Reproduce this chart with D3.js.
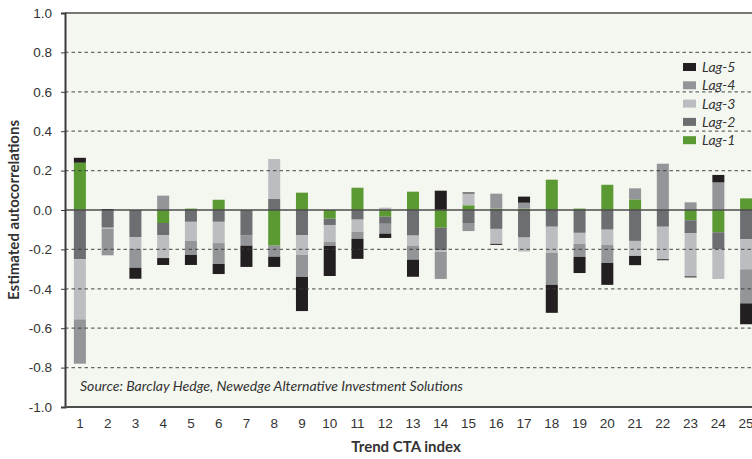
<!DOCTYPE html>
<html>
<head>
<meta charset="utf-8">
<script src="https://cdn.jsdelivr.net/npm/d3@7"></script>
<style>
  body { margin: 0; background: #fff; }
  svg { display: block; font-family: Lato, "Open Sans", sans-serif; }
</style>
</head>
<body>
<svg id="chart"></svg>
<script>
const width = 752;
const height = 459;

const categories = d3.range(1, 26).map(String);
const lagNames = ["Lag-1", "Lag-2", "Lag-3", "Lag-4", "Lag-5"];
const lagColors = ["#5b9a33", "#6d6e71", "#bcbdc0", "#939598", "#231f20"];

const lag1 = [0.24, 0, 0, -0.066, 0.007, 0.052, 0, -0.181, 0.088, -0.044, 0.113, -0.034, 0.093, -0.09, 0.024, 0.007, 0.007, 0.154, 0.007, 0.128, 0.054, 0, -0.052, -0.113, 0.059];
const lag2 = [-0.25, -0.09, -0.137, -0.061, -0.06, -0.06, -0.13, 0.056, -0.127, -0.032, -0.049, -0.036, -0.13, -0.113, -0.066, -0.096, -0.14, -0.085, -0.116, -0.1, -0.157, -0.085, -0.065, -0.087, -0.149];
const lag3 = [-0.305, -0.005, -0.06, -0.117, -0.097, -0.108, 0, 0.203, -0.101, -0.086, -0.061, 0.012, -0.051, -0.01, 0.06, -0.076, -0.071, -0.132, -0.056, -0.077, -0.076, -0.165, -0.22, -0.15, -0.152];
const lag4 = [-0.225, -0.135, -0.096, 0.073, -0.071, -0.106, -0.051, -0.056, -0.112, -0.02, -0.036, -0.05, -0.071, -0.137, -0.041, 0.076, 0.03, -0.163, -0.066, -0.092, 0.056, 0.235, 0.039, 0.14, -0.173];
const lag5 = [0.025, 0.005, -0.056, -0.035, -0.051, -0.051, -0.108, -0.052, -0.173, -0.153, -0.102, -0.022, -0.087, 0.098, 0.005, -0.005, 0.031, -0.142, -0.082, -0.111, -0.047, -0.005, -0.005, 0.038, -0.106];

const yTicks = [-1.0, -0.8, -0.6, -0.4, -0.2, 0, 0.2, 0.4, 0.6, 0.8, 1.0];
const gridTicks = [-0.8, -0.6, -0.4, -0.2, 0.2, 0.4, 0.6, 0.8];

const sourceText = "Source: Barclay Hedge, Newedge Alternative Investment Solutions";

// rows for the stack
const series = [lag1, lag2, lag3, lag4, lag5];
const rows = categories.map((c, i) => {
  const r = { cat: c };
  lagNames.forEach((k, j) => r[k] = series[j][i]);
  return r;
});

const plot = { left: 65, top: 13, right: 760, bottom: 407 };

const svg = d3.select("#chart")
  .attr("width", width)
  .attr("height", height);

const x = d3.scaleBand()
  .domain(categories)
  .range([plot.left + 1, plot.right])
  .paddingInner(0.567)
  .paddingOuter(0.2835);

const y = d3.scaleLinear()
  .domain([-1, 1])
  .range([plot.bottom, plot.top]);

// plot background
svg.append("rect")
  .attr("x", plot.left)
  .attr("y", plot.top)
  .attr("width", plot.right - plot.left)
  .attr("height", plot.bottom - plot.top)
  .attr("fill", "#f4f7f0");

const stacked = d3.stack()
  .keys(lagNames)
  .offset(d3.stackOffsetDiverging)(rows);

svg.append("g")
  .selectAll("g")
  .data(stacked)
  .join("g")
  .attr("fill", (d, i) => lagColors[i])
  .selectAll("rect")
  .data(d => d)
  .join("rect")
  .attr("x", d => x(d.data.cat))
  .attr("width", x.bandwidth())
  .attr("y", d => y(d[1]))
  .attr("height", d => Math.abs(y(d[0]) - y(d[1])));

// dashed grid on top of bars
svg.append("g")
  .selectAll("line")
  .data(gridTicks)
  .join("line")
  .attr("x1", plot.left)
  .attr("x2", plot.right)
  .attr("y1", d => y(d))
  .attr("y2", d => y(d))
  .attr("stroke", "#3a3a3a")
  .attr("stroke-opacity", 0.75)
  .attr("stroke-width", 1.2)
  .attr("stroke-dasharray", "3.5,3");

// zero line
svg.append("line")
  .attr("x1", plot.left)
  .attr("x2", plot.right)
  .attr("y1", y(0))
  .attr("y2", y(0))
  .attr("stroke", "#4d4d4d")
  .attr("stroke-width", 1.6);

// top frame
svg.append("line")
  .attr("x1", plot.left)
  .attr("x2", plot.right)
  .attr("y1", plot.top)
  .attr("y2", plot.top)
  .attr("stroke", "#4d4d4d")
  .attr("stroke-width", 1.5);

// y axis
const yAxis = svg.append("g")
  .attr("transform", `translate(${plot.left},0)`)
  .call(d3.axisLeft(y).tickValues(yTicks).tickSize(4).tickPadding(9).tickFormat(d => d.toFixed(1)));
yAxis.select(".domain").attr("stroke", "#3a3a3a").attr("stroke-width", 2);
yAxis.selectAll(".tick line").attr("stroke", "#3a3a3a");
yAxis.selectAll("text").attr("font-size", 13.5).attr("fill", "#333");

// x axis (bottom frame at -1.0)
const xAxis = svg.append("g")
  .attr("transform", `translate(0,${plot.bottom})`)
  .call(d3.axisBottom(x).tickSize(0).tickPadding(11));
xAxis.select(".domain").attr("d", `M${plot.left},0H${plot.right}`).attr("stroke", "#4d4d4d").attr("stroke-width", 2);
xAxis.selectAll("text").attr("font-size", 13.5).attr("fill", "#333");

// axis titles
svg.append("text")
  .attr("x", 406)
  .attr("y", 452)
  .attr("text-anchor", "middle")
  .attr("font-size", 15)
  .attr("font-weight", "bold")
  .attr("fill", "#333")
  .text("Trend CTA index");

svg.append("text")
  .attr("transform", `translate(19,${y(0)}) rotate(-90)`)
  .attr("text-anchor", "middle")
  .attr("font-size", 15)
  .attr("font-weight", "bold")
  .attr("fill", "#333")
  .text("Estimated autocorrelations");

// source note
svg.append("text")
  .attr("x", 80)
  .attr("y", 391)
  .attr("font-size", 13)
  .attr("font-style", "italic")
  .attr("fill", "#333")
  .attr("textLength", 383)
  .attr("lengthAdjust", "spacingAndGlyphs")
  .text(sourceText);

// legend, reversed
const legend = svg.append("g")
  .selectAll("g")
  .data(lagNames.slice().reverse())
  .join("g")
  .attr("transform", (d, i) => `translate(683,${67 + i * 18.3})`);

legend.append("rect")
  .attr("x", 0)
  .attr("y", -4)
  .attr("width", 13)
  .attr("height", 8)
  .attr("fill", d => lagColors[lagNames.indexOf(d)]);

legend.append("text")
  .attr("x", 19)
  .attr("y", 0)
  .attr("dy", "0.35em")
  .attr("font-size", 14)
  .attr("font-style", "italic")
  .attr("fill", "#333")
  .text(d => d);
</script>
</body>
</html>
